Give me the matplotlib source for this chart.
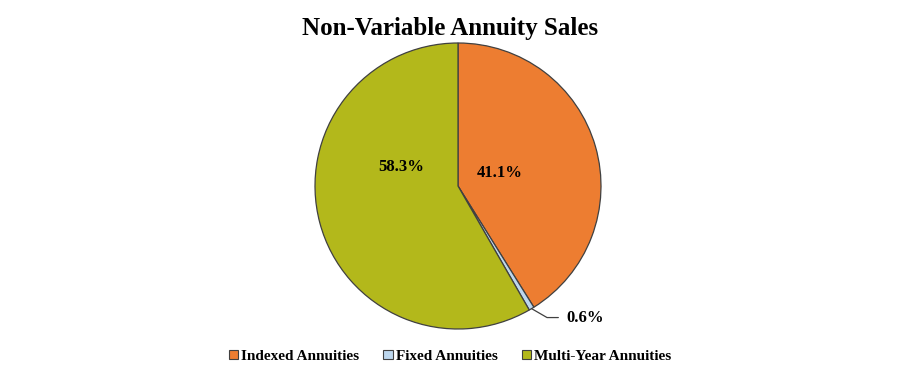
import numpy as np
import matplotlib
matplotlib.use("Agg")
import matplotlib.pyplot as plt

plt.rcParams['font.family'] = ['Liberation Serif', 'DejaVu Serif']

labels = ['Indexed Annuities', 'Fixed Annuities', 'Multi-Year Annuities']
shares = [41.1, 0.6, 58.3]
colors = ['#ED7D31', '#BDD7EE', '#B3B81B']

fig = plt.figure(figsize=(9, 3.83), dpi=100)
fig.text(0.5, 0.925, 'Non-Variable Annuity Sales', ha='center', va='center',
         fontsize=18, fontweight='bold')

# pie axes: centre ~ (458, 186) px, radius ~ 143 px
ax = fig.add_axes([315 / 900, 54 / 383, 286 / 900, 286 / 383])
wedges, _ = ax.pie(shares, colors=colors, startangle=90, counterclock=False,
                   radius=1.0,
                   wedgeprops=dict(edgecolor='#404040', linewidth=0.9))
ax.set_xlim(-1.0, 1.0)
ax.set_ylim(-1.0, 1.0)
ax.set_aspect('equal')
ax.axis('off')

pct = ['%.1f%%' % s for s in shares]
ax.text(0.295, 0.09, pct[0], ha='center', va='center', fontsize=12, fontweight='bold')
ax.text(-0.40, 0.13, pct[2], ha='center', va='center', fontsize=12, fontweight='bold')

# small slice label with leader line
w = wedges[1]
mid = np.deg2rad((w.theta1 + w.theta2) / 2)
ex, ey = np.cos(mid), np.sin(mid)
ax.annotate(pct[1], xy=(ex, ey), xytext=(0.76, -0.92), ha='left', va='center',
            fontsize=12, fontweight='bold', annotation_clip=False,
            arrowprops=dict(arrowstyle='-', color='#404040', lw=0.9,
                            connectionstyle='angle,angleA=0,angleB=-30,rad=0',
                            shrinkA=4, shrinkB=0))

handles = [plt.Rectangle((0, 0), 1, 1, facecolor=c, edgecolor='#404040', lw=0.8)
           for c in colors]
fig.legend(handles, labels, loc='center', bbox_to_anchor=(0.5, 0.07), ncol=3,
           frameon=False, prop=dict(size=11, weight='bold'),
           handlelength=0.6, handleheight=0.6, handletextpad=0.2, columnspacing=1.6)

fig.savefig('out.png', dpi=100)
